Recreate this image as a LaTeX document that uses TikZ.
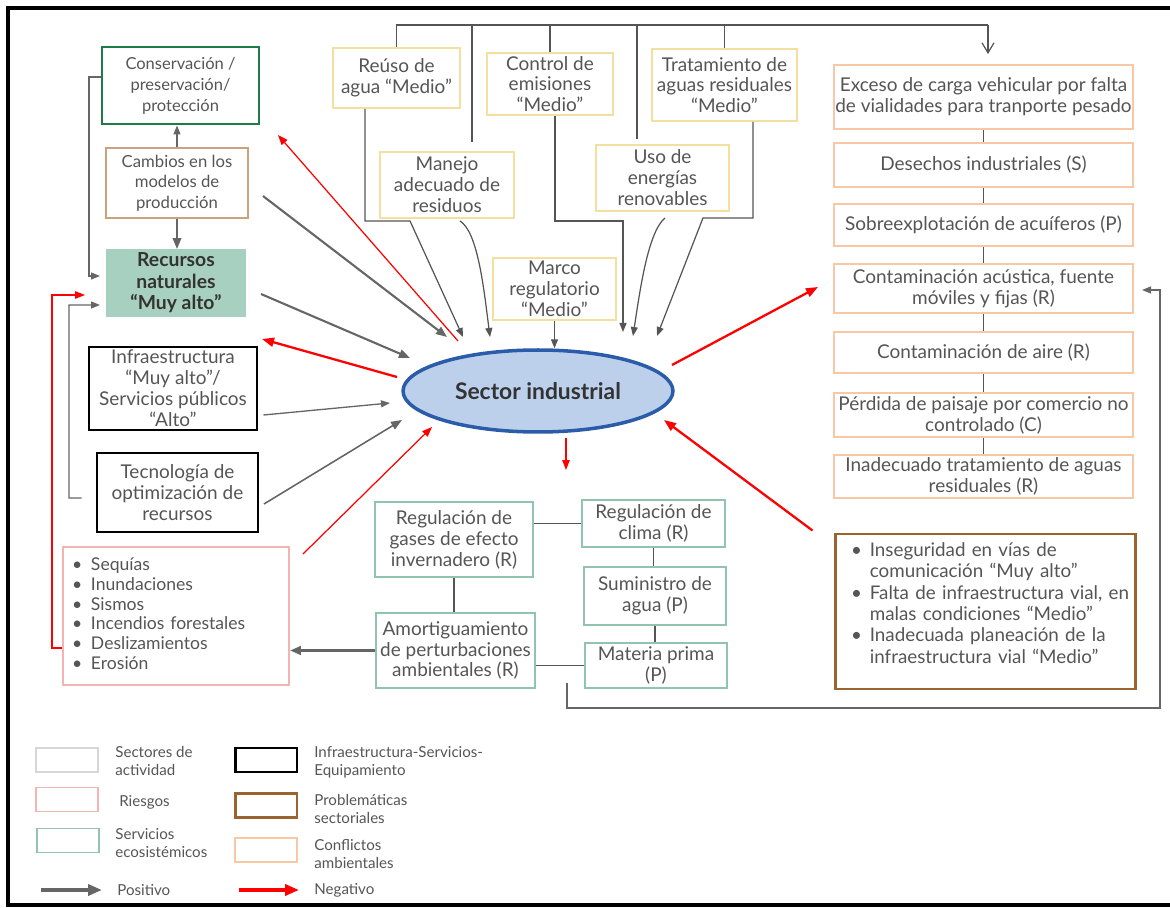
\documentclass[tikz,border=0pt]{standalone}
\usepackage{fontspec}
\setmainfont{Lato}
\usetikzlibrary{shapes.geometric,arrows.meta,calc}
\definecolor{txt}{HTML}{555555}
\definecolor{darktxt}{HTML}{333333}
\definecolor{consC}{HTML}{1E7A46}
\definecolor{cambC}{HTML}{C9A27E}
\definecolor{recuC}{HTML}{A8D0C0}
\definecolor{yelC}{HTML}{F3DF9F}
\definecolor{ellF}{HTML}{BCD0EC}
\definecolor{ellC}{HTML}{2A5CAA}
\definecolor{peachC}{HTML}{F8C8A6}
\definecolor{riesC}{HTML}{F4B4B4}
\definecolor{greenC}{HTML}{90C4AF}
\definecolor{brownC}{HTML}{9A6430}
\definecolor{arrC}{HTML}{666666}
\definecolor{lineC}{HTML}{555555}
\definecolor{legGray}{HTML}{D6D6D6}
\newcommand\myfnt{\fontsize{10.8}{11.9}\selectfont}
\newcommand\myconsfnt{\fontsize{9.4}{11.9}\selectfont}
\newcommand\mysfnt{\fontsize{9.5}{11.6}\selectfont}
\newcommand\mylfnt{\fontsize{10}{11.3}\selectfont}
\newcommand\mypfnt{\fontsize{10.7}{12.2}\selectfont}
\newcommand\mygfnt{\fontsize{8.6}{10.2}\selectfont}
\begin{document}
\begin{tikzpicture}[x=0.02cm,y=-0.02cm,
  every node/.style={text=txt},
  wh/.style 2 args={minimum width=#1*0.02cm, minimum height=#2*0.02cm},
  box/.style={draw=#1, line width=1.1pt, align=center, inner sep=0pt, font=\myfnt},
  thickbox/.style={box=#1, line width=1.7pt},
  ln/.style={draw=lineC, line width=0.7pt},
  lnarr/.style={ln, -{Triangle[length=0.18cm,width=0.14cm]}},
  garr/.style={draw=arrC, line width=1.2pt, -{Triangle[length=0.22cm,width=0.17cm]}},
  garrthin/.style={draw=arrC, line width=0.75pt, -{Triangle[length=0.18cm,width=0.14cm]}},
  rarr/.style={draw=red, line width=1.3pt, -{Triangle[length=0.24cm,width=0.18cm]}},
  rarrthin/.style={draw=red, line width=0.7pt, -{Triangle[length=0.2cm,width=0.15cm]}},
  legbox/.style={draw=#1, line width=1.1pt, inner sep=0pt, minimum width=1.24cm, minimum height=0.48cm},
  legtxt/.style={anchor=west, align=left, font=\mygfnt, inner sep=0pt},
]
\useasboundingbox (0,0) rectangle (1170,908);
% frame
\draw[line width=2.3pt] (1170,8) -- (8,8) -- (8,905) -- (1170,905);

% ---------- left column
\node[thickbox=consC, wh={157}{77}, font=\myconsfnt] (cons) at (180.5,85.5) {Conservación /\\preservación/\\protección};
\node[box=cambC, wh={142}{70}, font=\mysfnt] (camb) at (177,183) {Cambios en los\\modelos de\\producción};
\node[box=recuC, fill=recuC, wh={138}{66}, font=\fontsize{11}{12.2}\selectfont\bfseries, text=darktxt] (recu) at (176,283) {Recursos\\naturales\\“Muy alto”};
\node[thickbox=black, wh={168}{83}] (infra) at (173,388.5) {Infraestructura\\“Muy alto”/\\Servicios públicos\\“Alto”};
\node[thickbox=black, wh={161}{79}] (tecn) at (177.5,492.5) {Tecnología de\\optimización de\\recursos};
\node[box=riesC, wh={226}{138}, align=left, text width=4.16cm, inner xsep=0.18cm, font=\mylfnt] (ries) at (176,616)
 {\begin{tabular}{@{}l@{\hspace{5pt}}l@{}}
 \textbullet & Sequías\\
 \textbullet & Inundaciones\\
 \textbullet & Sismos\\
 \textbullet & Incendios forestales\\
 \textbullet & Deslizamientos\\
 \textbullet & Erosión
 \end{tabular}};

% ---------- top boxes
\node[box=yelC, wh={127}{60}] (reuso) at (396.5,78) {Reúso de\\agua “Medio”};
\node[box=yelC, wh={126}{62}] (ctrl) at (550,84) {Control de\\emisiones\\“Medio”};
\node[box=yelC, wh={145}{72}] (trat) at (724.5,85) {Tratamiento de\\aguas residuales\\“Medio”};
\node[box=yelC, wh={134}{66}] (manejo) at (447,185) {Manejo\\adecuado de\\residuos};
\node[box=yelC, wh={133}{66}] (uso) at (662.5,178) {Uso de\\energías\\renovables};
\node[box=yelC, wh={123}{62}] (marco) at (554.5,289) {Marco\\regulatorio\\“Medio”};

% ---------- central ellipse
\node[ellipse, draw=ellC, line width=2pt, fill=ellF, minimum width=5.4cm, minimum height=1.64cm, inner sep=0pt,
  font=\fontsize{13}{15}\selectfont\bfseries, text=darktxt] (sector) at (538,391) {Sector industrial};

% ---------- right column
\node[box=peachC, wh={299}{64}] (exceso) at (983.5,97) {Exceso de carga vehicular por falta\\de vialidades para tranporte pesado};
\node[box=peachC, wh={299}{44}] (desech) at (983.5,165) {Desechos industriales (S)};
\node[box=peachC, wh={299}{42}] (sobre) at (983.5,225) {Sobreexplotación de acuíferos (P)};
\node[box=peachC, wh={299}{49}] (acust) at (983.5,288.5) {Contaminación acústica, fuente\\móviles y fijas (R)};
\node[box=peachC, wh={299}{41}] (aire) at (983.5,352.5) {Contaminación de aire (R)};
\node[box=peachC, wh={299}{44}] (perd) at (983.5,415) {Pérdida de paisaje por comercio no\\controlado (C)};
\node[box=peachC, wh={299}{43}] (inad) at (983.5,476.5) {Inadecuado tratamiento de aguas\\residuales (R)};
\node[thickbox=brownC, wh={300}{155}, align=left, text width=5.36cm, inner xsep=0.32cm, font=\mypfnt] (probl) at (985,611.5)
 {\begin{tabular}{@{}l@{\hspace{4.5pt}}l@{}}
 \textbullet & Inseguridad en vías de\\
  & comunicación “Muy alto”\\
 \textbullet & Falta de infraestructura vial, en\\
  & malas condiciones “Medio”\\
 \textbullet & Inadecuada planeación de la\\
  & infraestructura vial “Medio”
 \end{tabular}\par\vspace{0.24cm}};

% ---------- ecosystem services
\node[box=greenC, wh={158}{75}] (gases) at (454,539.5) {Regulación de\\gases de efecto\\invernadero (R)};
\node[box=greenC, wh={143}{47}] (clima) at (653.5,523.5) {Regulación de\\clima (R)};
\node[box=greenC, wh={142}{58}] (sumin) at (655,596) {Suministro de\\agua (P)};
\node[box=greenC, wh={142}{45}] (mater) at (656,665.5) {Materia prima\\(P)};
\node[box=greenC, wh={159}{75}] (amort) at (455.5,650.5) {Amortiguamiento\\de perturbaciones\\ambientales (R)};

% ---------- coordinates
\coordinate (tA) at (447,337);
\coordinate (tB) at (410,358);
\coordinate (tC) at (390,403);
\coordinate (tD) at (402,420);
\coordinate (tE) at (432,427);
\coordinate (tF) at (463,337);
\coordinate (tG) at (490,337);
\coordinate (tH) at (623,332);
\coordinate (tI) at (633,336);
\coordinate (tJ) at (657,336);
\coordinate (tK) at (664,420);
\coordinate (rcS) at (458,341); \coordinate (rcT) at (278,135);
\coordinate (rrS) at (397,377); \coordinate (rrT) at (262,339);
\coordinate (raS) at (672,365); \coordinate (raT) at (818,287);
\coordinate (rdS) at (566,438); \coordinate (rdT) at (566,470);
\coordinate (busR) at (988,25);
\coordinate (b2) at (472,25);
\coordinate (b4) at (637,25);
\coordinate (lc1) at (89,77); \coordinate (lcT) at (100,276);
\coordinate (lt1) at (69,498); \coordinate (ltT) at (100,305);
\coordinate (lr1) at (52,648); \coordinate (lrT) at (85,295);
\coordinate (bl) at (567,683); \coordinate (br) at (1160,708); \coordinate (acT) at (1142,290);

% ---------- top bus
\draw[ln] (reuso.north) |- (busR);
\draw[ln, -{Straight Barb[length=0.2cm,width=0.24cm]}, shorten >=0.2cm] (busR) -- (busR |- exceso.north);
\draw[ln, shorten >=0.18cm] (b2) -- (b2 |- manejo.north);
\draw[ln] (ctrl.north) -- (ctrl.north |- busR);
\draw[ln, shorten >=0.1cm] (b4) -- (b4 |- uso.north);
\draw[ln] (trat.north) -- (trat.north |- busR);

% ---------- top boxes to sector
\draw[lnarr] ($(reuso.south)+(-31.5,0)$) -- ++(0,112) -- ++(45,0) -- (tF);
\draw[lnarr] ($(manejo.south)+(13,2)$) .. controls (478,232) and (484,290) .. (tG);
\draw[lnarr] ($(ctrl.south)+(5,0)$) -- ++(0,105) -| (tH);
\draw[lnarr] ($(uso.south)+(2.5,6)$) .. controls (648,232) and (640,290) .. (tI);
\draw[lnarr] ($(trat.south)+(28.5,0)$) -- ++(0,96) -- ++(-50,0) -- (tJ);
\draw[lnarr] (marco.south) -- (marco.south |- sector.north);

% ---------- left column links
\draw[garrthin] (camb.north) -- (camb.north |- cons.south);
\draw[garr] (camb.south) -- (camb.south |- recu.north);
\draw[garrthin] (cons.west |- lc1) -- (lc1) |- (lcT);
\draw[garrthin] ($(tecn.west)+(-14,5.5)$) -- (lt1) |- (ltT);
\draw[rarrthin] ($(ries.west)+(0,32)$) -- (lr1) |- (lrT);

% ---------- into sector (positive)
\draw[garr] ($(camb.east)+(14,13)$) -- (tA);
\draw[garr] ($(recu.east)+(15,11)$) -- (tB);
\draw[garrthin] ($(infra.east)+(5,26.5)$) -- (tC);
\draw[garr, line width=0.9pt] ($(tecn.east)+(4.5,11.5)$) -- (tD);

% ---------- negative
\draw[rarrthin] ($(ries.north east)+(13,8)$) -- (tE);
\draw[rarr] ($(probl.north west)+(-21,-2)$) -- (tK);
\draw[rarrthin] (rcS) -- (rcT);
\draw[rarr] (rrS) -- (rrT);
\draw[rarr] (raS) -- (raT);
\draw[rarrthin] (rdS) -- (rdT);

% ---------- services
\draw[garr, line width=1.6pt] (amort.west) -- (amort.west -| ries.east);
\draw[ln] (gases.east |- clima.west) -- (clima.west);
\draw[ln] (gases.south) -- (gases.south |- amort.north);
\draw[ln] (clima.south) -- (clima.south |- sumin.north);
\draw[ln] (sumin.south) -- (sumin.south |- mater.north);
\draw[ln] (amort.east |- mater.west) -- (mater.west);
\draw[garrthin] (bl) |- (br) |- (acT);

% ---------- right column links
\foreach \a/\b in {exceso/desech, desech/sobre, sobre/acust, acust/aire, aire/perd, perd/inad}
  \draw[ln] (\a.south) -- (\b.north);

% ---------- legend
\node[legbox=legGray] (lg1) at (67,760) {};
\node[legbox=riesC] (lg2) at (67,799.5) {};
\node[legbox=greenC] (lg3) at (68,840.5) {};
\node[legbox=black, line width=1.7pt] (lg4) at (266,760) {};
\node[legbox=brownC, line width=1.7pt] (lg5) at (266,805.5) {};
\node[legbox=peachC] (lg6) at (266,850) {};
\node[legtxt] (lt1t) at (115,761) {Sectores de\\actividad};
\node[legtxt] (lt2t) at (119,802) {Riesgos};
\node[legtxt] (lt3t) at (115,843) {Servicios\\ecosistémicos};
\node[legtxt] (lt4t) at (314,762) {Infraestructura-Servicios-\\Equipamiento};
\node[legtxt] (lt5t) at (314,809) {Problemáticas\\sectoriales};
\node[legtxt] (lt6t) at (314,854) {Conflictos\\ambientales};
\coordinate (lpS) at (41,890); \coordinate (lpT) at (102,890);
\coordinate (lnS) at (239,890); \coordinate (lnT) at (299,890);
\draw[draw=arrC, line width=2pt, -{Triangle[length=0.28cm,width=0.22cm]}] (lpS) -- (lpT);
\draw[draw=red, line width=2pt, -{Triangle[length=0.28cm,width=0.22cm]}] (lnS) -- (lnT);
\node[legtxt] (lt7t) at (117,890) {Positivo};
\node[legtxt] (lt8t) at (314,890) {Negativo};
\end{tikzpicture}
\end{document}
